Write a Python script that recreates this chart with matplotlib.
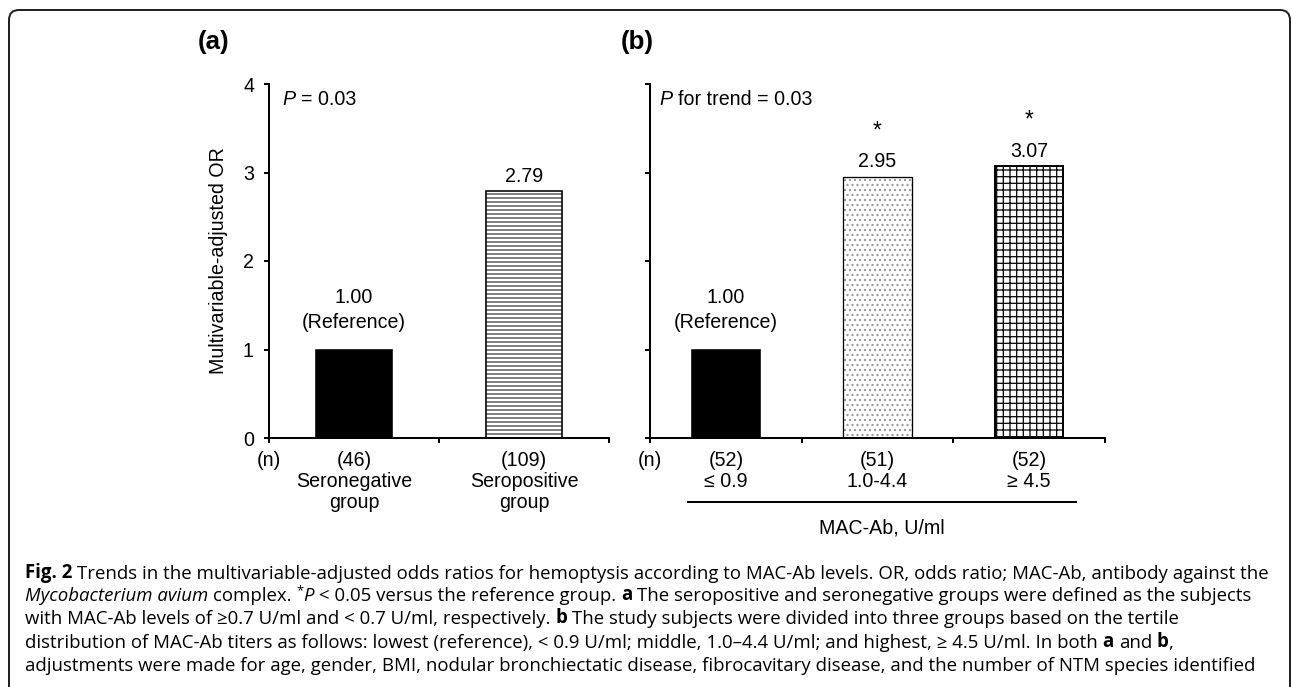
import numpy as np
import matplotlib
matplotlib.use('Agg')
import matplotlib.pyplot as plt
from matplotlib.patches import FancyBboxPatch
from matplotlib.transforms import IdentityTransform, blended_transform_factory

W, H, DPI = 1292, 687, 120

# panel (a): serostatus
groups_a = ['Seronegative\ngroup', 'Seropositive\ngroup']
n_a = [46, 109]
or_a = [1.00, 2.79]

# panel (b): MAC-Ab tertiles
groups_b = ['\u2264 0.9', '1.0-4.4', '\u2265 4.5']
n_b = [52, 51, 52]
or_b = [1.00, 2.95, 3.07]
sig_b = [False, True, True]

caption = [
    [('Fig. 2', 'b'), (' Trends in the multivariable-adjusted odds ratios for hemoptysis according to MAC-Ab levels. OR, odds ratio; MAC-Ab, antibody against the', 'n')],
    [('Mycobacterium avium', 'i'), (' complex.', 'n'), (' *', 's'), ('P', 'i'), (' < 0.05 versus the reference group.', 'n'), (' a', 'b'),
     (' The seropositive and seronegative groups were defined as the subjects', 'n')],
    [('with MAC-Ab levels of \u22650.7 U/ml and < 0.7 U/ml, respectively.', 'n'), (' b', 'b'),
     (' The study subjects were divided into three groups based on the tertile', 'n')],
    [('distribution of MAC-Ab titers as follows: lowest (reference), < 0.9 U/ml; middle, 1.0\u20134.4 U/ml; and highest, \u2265 4.5 U/ml. In both', 'n'),
     (' a', 'b'), (' and', 'n'), (' b', 'b'), (',', 'n')],
    [('adjustments were made for age, gender, BMI, nodular bronchiectatic disease, fibrocavitary disease, and the number of NTM species identified', 'n')],
]

chart_font = ['Liberation Sans', 'DejaVu Sans']
cap_font = ['Open Sans', 'DejaVu Sans']
plt.rcParams['font.family'] = chart_font
plt.rcParams['hatch.linewidth'] = 0.8
fs = 11.8
cap_fs = 11.2


def px(p):
    # pixels -> points at this dpi
    return p * 72 / DPI


fig = plt.figure(figsize=(W / DPI, H / DPI), dpi=DPI)
ax_a = fig.add_axes([269 / W, 1 - 438 / H, 340 / W, 354 / H])
ax_b = fig.add_axes([650 / W, 1 - 438 / H, 455 / W, 354 / H])
cap = fig.add_axes([0, 0, 1, 1], zorder=-1)
cap.set_axis_off()

STY = {'n': {}, 'b': {'fontweight': 'bold'}, 'i': {'fontstyle': 'italic'}, 's': {}}


def rich(ax, x, y, parts, size, family, space):
    base = None
    last = None
    for s, k in parts:
        gap = 0
        if s.startswith(' '):
            s = s.lstrip(' ')
            gap = space * size * DPI / 72
        kw = dict(fontsize=size, family=family, ha='left', va='bottom', **STY[k])
        if last is None:
            t = ax.text(x, y, s, transform=ax.transAxes, **dict(kw, va='center'))
            base = t
        elif k == 's':
            kw['fontsize'] = size * 0.7
            t = ax.annotate(s, xy=(1, 0.45), xycoords=(last, base), xytext=(gap, 0),
                            textcoords='offset pixels', **kw)
        else:
            t = ax.annotate(s, xy=(1, 0), xycoords=(last, base), xytext=(gap, 0),
                            textcoords='offset pixels', **kw)
            base = t
        last = t
    return last


def style_axes(ax, ncat, labels):
    ax.set_xlim(-0.5, ncat - 0.5)
    ax.set_ylim(0, 4)
    ax.spines[['top', 'right']].set_visible(False)
    ax.spines[['left', 'bottom']].set_linewidth(px(2))
    ax.set_yticks(range(5))
    ax.set_xticks(np.arange(ncat + 1) - 0.5)
    ax.tick_params(direction='out', length=px(5), width=px(2), pad=px(10), labelsize=fs)
    ax.tick_params(axis='x', labelbottom=False)
    ax.tick_params(axis='y', labelleft=labels)
    ax.patch.set_alpha(0)


def draw_bars(ax, vals, hatches, hcolors, fills, lws):
    x = np.arange(len(vals))
    for i in x:
        ax.bar(x[i], vals[i], 0.45, color=fills[i], edgecolor=hcolors[i], hatch=hatches[i], linewidth=0)
    ax.bar(x, vals, 0.45, facecolor='none', edgecolor='black', linewidth=lws)


def label_bars(ax, vals, sig):
    for i, v in enumerate(vals):
        kw = dict(xy=(i, v), textcoords='offset pixels', ha='center', va='center', fontsize=fs)
        if i == 0:
            ax.annotate('(Reference)', xytext=(0, 27), **kw)
            ax.annotate(f'{v:.2f}', xytext=(0, 52), **kw)
        else:
            ax.annotate(f'{v:.2f}', xytext=(0, 15), **kw)
        if sig[i]:
            ax.annotate('*', xytext=(0, 46), **dict(kw, fontsize=fs * 1.15))


def label_groups(ax, groups, ns):
    kw = dict(xycoords='data', textcoords='offset pixels', ha='center', va='top',
              fontsize=fs, linespacing=1.12, annotation_clip=False)
    ax.annotate('(n)', xy=(-0.5, 0), xytext=(0, -13), **kw)
    for i, (g, n) in enumerate(zip(groups, ns)):
        ax.annotate(f'({n})\n{g}', xy=(i, 0), xytext=(0, -13), **kw)


# panel (a)
style_axes(ax_a, 2, True)
draw_bars(ax_a, or_a, [None, '-----'], ['black', '#444444'], ['black', 'white'], px(1.6))
label_bars(ax_a, or_a, [False, False])
label_groups(ax_a, groups_a, n_a)
ax_a.set_ylabel('Multivariable-adjusted OR', fontsize=fs, labelpad=px(15))
rich(ax_a, 0.038, 0.955, [('P', 'i'), (' = 0.03', 'n')], fs, chart_font, 0.28)

# panel (b)
style_axes(ax_b, 3, False)
draw_bars(ax_b, or_b, [None, '....', '+++'], ['black', '#9a9a9a', '#111111'], ['black', 'white', 'white'],
          [px(1.6), px(1.3), px(2)])
label_bars(ax_b, or_b, sig_b)
label_groups(ax_b, groups_b, n_b)
rich(ax_b, 0.021, 0.955, [('P', 'i'), (' for trend = 0.03', 'n')], fs, chart_font, 0.28)
tr = blended_transform_factory(ax_b.transData, ax_b.transAxes)
ax_b.plot([-0.25, 2.31], [-64 / 354] * 2, color='black', lw=px(2), transform=tr, clip_on=False)
ax_b.text(1.03, -90 / 354, 'MAC-Ab, U/ml', transform=tr, ha='center', va='center', fontsize=fs)

fig.text(214 / W, 1 - 42 / H, '(a)', ha='center', va='center', fontsize=15.5, fontweight='bold')
fig.text(637 / W, 1 - 42 / H, '(b)', ha='center', va='center', fontsize=15.5, fontweight='bold')

# caption
for k, line in enumerate([573, 596, 619, 643, 666]):
    rich(cap, 25 / W, 1 - line / H, caption[k], cap_fs, cap_font, 0.26)

# frame around the figure
frame = FancyBboxPatch((9, -30), 1281, H - 10 + 30, boxstyle='round,pad=0,rounding_size=10',
                       transform=IdentityTransform(), facecolor='none', edgecolor='#222222', lw=px(2))
fig.patches.append(frame)

fig.savefig('out.png', dpi=DPI)
